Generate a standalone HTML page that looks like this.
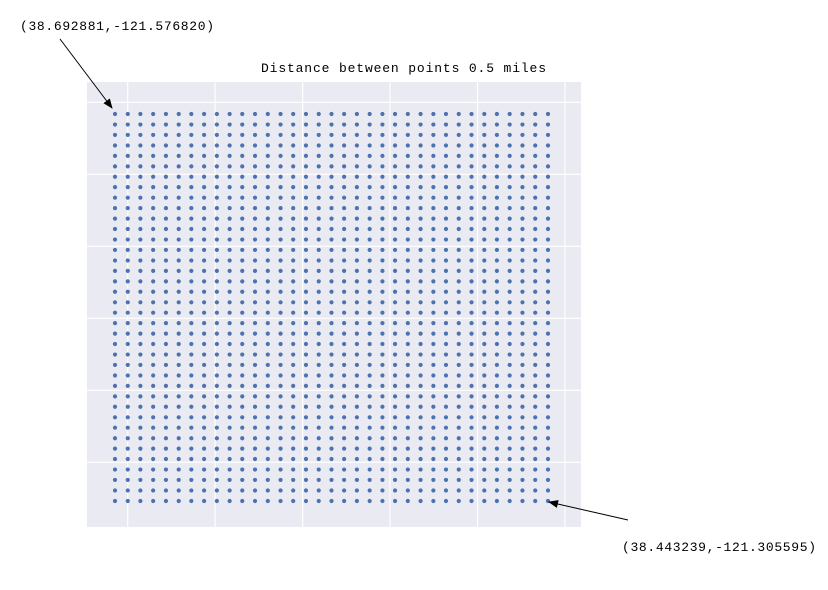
<!DOCTYPE html>
<html><head><meta charset="utf-8"><style>
body{margin:0;background:#fff;}
svg text{font-family:"Liberation Mono",monospace;fill:#000;}
</style></head><body>
<svg id="chart" width="828" height="585" xmlns="http://www.w3.org/2000/svg">
<defs><marker id="ah" markerWidth="10" markerHeight="8" refX="9" refY="4" orient="auto" markerUnits="userSpaceOnUse"><path d="M0,0 L10,4 L0,8 z" fill="#000"/></marker></defs>
<rect x="87" y="82" width="494" height="445" fill="#eaeaf2"/>
<g id="grid"></g>
<g id="pts"></g>
<text x="261" y="72" font-size="13" textLength="285">Distance between points 0.5 miles</text>
<text x="20" y="30" font-size="13" textLength="194">(38.692881,-121.576820)</text>
<line x1="60" y1="39" x2="112" y2="108" stroke="#000" stroke-width="1" marker-end="url(#ah)"/>
<text x="622" y="551" font-size="13" textLength="194">(38.443239,-121.305595)</text>
<line x1="628" y1="520" x2="549" y2="502" stroke="#000" stroke-width="1" marker-end="url(#ah)"/>
</svg>
<script>
const lons=[-121.5768,-121.5688,-121.5609,-121.5529,-121.5449,-121.5369,-121.5290,-121.5210,-121.5130,-121.5050,-121.4971,-121.4891,-121.4811,-121.4731,-121.4652,-121.4572,-121.4492,-121.4412,-121.4333,-121.4253,-121.4173,-121.4093,-121.4014,-121.3934,-121.3854,-121.3774,-121.3695,-121.3615,-121.3535,-121.3455,-121.3376,-121.3296,-121.3216,-121.3136,-121.3056];
const lats=[38.6929,38.6861,38.6794,38.6726,38.6659,38.6591,38.6524,38.6457,38.6389,38.6322,38.6254,38.6187,38.6119,38.6052,38.5984,38.5917,38.5849,38.5782,38.5714,38.5647,38.5580,38.5512,38.5445,38.5377,38.5310,38.5242,38.5175,38.5107,38.5040,38.4972,38.4905,38.4837,38.4770,38.4703,38.4635,38.4568,38.4500,38.4432];
const NS="http://www.w3.org/2000/svg";
const lonMin=-121.5768,lonMax=-121.3056,latMax=38.6929,latMin=38.4432;
function xs(v){return 115+(v-lonMin)/(lonMax-lonMin)*433;}
function ys(v){return 114+(latMax-v)/(latMax-latMin)*387;}
const g=document.getElementById('grid');
const vx=[127.7,215.1,302.6,390,477.5,565];
const hy=[102.3,174.3,246.3,318.3,390.3,462.3];
vx.forEach(x=>{const l=document.createElementNS(NS,'line');


l.setAttribute('x1',x);l.setAttribute('x2',x);l.setAttribute('y1',82);l.setAttribute('y2',527);l.setAttribute('stroke','#fff');l.setAttribute('stroke-width','1.2');g.appendChild(l);});
hy.forEach(y=>{const l=document.createElementNS(NS,'line');


l.setAttribute('x1',87);l.setAttribute('x2',581);l.setAttribute('y1',y);l.setAttribute('y2',y);l.setAttribute('stroke','#fff');l.setAttribute('stroke-width','1.2');g.appendChild(l);});
const p=document.getElementById('pts');
lats.forEach(la=>lons.forEach(lo=>{const c=document.createElementNS(NS,'circle');


c.setAttribute('cx',xs(lo).toFixed(2));c.setAttribute('cy',ys(la).toFixed(2));c.setAttribute('r','2.1');c.setAttribute('fill','#4c72b0');p.appendChild(c);}));
</script>
</body></html>
